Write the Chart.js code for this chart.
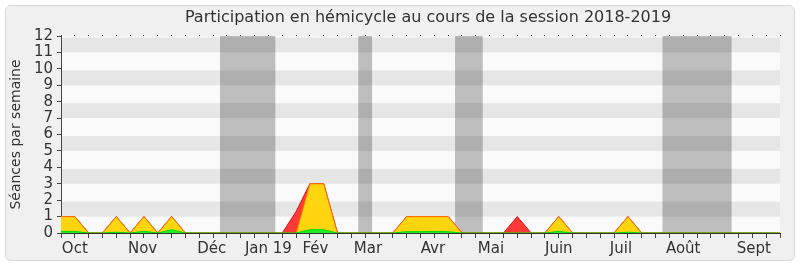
<!DOCTYPE html>
<html>
<head>
<meta charset="utf-8">
<script src="https://cdn.jsdelivr.net/npm/chart.js@4"></script>
<style>
  body { margin: 0; background: #fff; }
  #cadre { position: absolute; left: 5px; top: 5px; width: 788px; height: 254px;
           border: 1px solid #d9d9d9; border-radius: 6px; background: #f0f0f0; }
  canvas { position: absolute; left: 0; top: 0; }
</style>
</head>
<body>
<div id="cadre"></div>
<canvas id="chart" width="800" height="267"></canvas>
<script>
// une valeur par semaine, de début octobre 2018 (0) à fin septembre 2019 (52)
const seances = [
  1, 1, 0, 0, 1, 0, 1, 0, 1, 0,
  0, 0, 0, 0, 0, 0, 0, 1.3, 3, 3,
  0, 0, 0, 0, 0, 1, 1, 1, 1, 0,
  0, 0, 0, 1, 0, 0, 1, 0, 0, 0,
  0, 1, 0, 0, 0, 0, 0, 0, 0, 0,
  0, 0, 0
];
const presences = [
  1, 1, 0, 0, 1, 0, 1, 0, 1, 0,
  0, 0, 0, 0, 0, 0, 0, 0, 3, 3,
  0, 0, 0, 0, 0, 1, 1, 1, 1, 0,
  0, 0, 0, 0, 0, 0, 1, 0, 0, 0,
  0, 1, 0, 0, 0, 0, 0, 0, 0, 0,
  0, 0, 0
];
const interventions = [
  0.1, 0.1, 0, 0, 0.05, 0, 0.1, 0, 0.2, 0,
  0, 0, 0, 0, 0, 0, 0, 0, 0.2, 0.2,
  0, 0, 0, 0, 0, 0.08, 0.08, 0.1, 0.08, 0,
  0, 0, 0, 0, 0, 0, 0.1, 0, 0, 0,
  0, 0.05, 0, 0, 0, 0, 0, 0, 0, 0,
  0, 0, 0
];

// vacances parlementaires (en semaines)
const vacances = [[11.5, 15.5], [21.5, 22.5], [28.5, 30.5], [43.5, 48.5]];

// étiquettes des mois et semaine où elles tombent
const mois = ['Oct', 'Nov', 'Déc', 'Jan 19', 'Fév', 'Mar', 'Avr', 'Mai', 'Juin', 'Juil', 'Août', 'Sept'];
const moisSemaine = [1, 5.9, 10.9, 15, 18.4, 22.2, 26.9, 31.1, 36, 40.5, 45, 50.1];

const nbSemaines = 52;
const police = 'DejaVu Sans';

const toPoints = arr => arr.map((v, i) => ({ x: i, y: v }));

const fond = {
  id: 'fond',
  afterLayout(chart) {
    // le titre est centré un peu à droite dans l'original
    chart.titleBlock.left += 76;
  },
  beforeDraw(chart) {
    const { ctx, chartArea: a, scales: { x, y } } = chart;
    ctx.save();
    ctx.fillStyle = '#fafafa';
    ctx.fillRect(a.left, a.top, a.width, a.height);
    ctx.fillStyle = '#e6e6e6';
    for (let k = 1; k < 12; k += 2) {
      const y1 = y.getPixelForValue(k + 1);
      const y0 = y.getPixelForValue(k);
      ctx.fillRect(a.left, y1 + 1.5, a.width, y0 - y1 - 1.5);
    }
    ctx.fillStyle = 'rgba(0,0,0,0.245)';
    vacances.forEach(([d, f]) => {
      const x0 = x.getPixelForValue(d);
      const x1 = x.getPixelForValue(f);
      ctx.fillRect(x0, a.top, x1 - x0, a.height);
    });
    ctx.restore();
  }
};

const ctx = document.getElementById('chart').getContext('2d');

new Chart(ctx, {
  type: 'line',
  data: {
    datasets: [{
        label: 'Interventions',
        data: toPoints(interventions),
        backgroundColor: '#22ee22',
        borderColor: '#00dd00',
        borderWidth: 1,
        fill: 'origin'
      },
      {
        label: 'Présences',
        data: toPoints(presences),
        backgroundColor: '#ffd510',
        borderColor: '#ff6a00',
        borderWidth: 1,
        fill: 'origin'
      },
      {
        label: 'Séances',
        data: toPoints(seances),
        backgroundColor: '#ff3838',
        borderColor: '#ee1111',
        borderWidth: 1,
        fill: 'origin'
      }
    ]
  },
  options: {
    responsive: false,
    animation: false,
    events: [],
    elements: { point: { radius: 0 }, line: { tension: 0 } },
    layout: { padding: { left: 0, right: 20, top: 0, bottom: 0 } },
    plugins: {
      legend: { display: false },
      tooltip: { enabled: false },
      title: {
        display: true,
        text: 'Participation en hémicycle au cours de la session 2018-2019',
        color: '#333',
        font: { family: police, size: 16, weight: 'normal' },
        padding: { top: 8, bottom: 0 }
      }
    },
    scales: {
      x: {
        type: 'linear',
        position: 'bottom',
        min: 0,
        max: nbSemaines,
        afterBuildTicks: scale => {
          const t = [];
          for (let i = 0; i <= nbSemaines; i++) t.push({ value: i });
          moisSemaine.forEach(v => t.push({ value: v }));
          scale.ticks = t;
        },
        afterFit: scale => { scale.height = 34; },
        ticks: {
          autoSkip: false,
          maxRotation: 0,
          minRotation: 0,
          padding: 2,
          color: '#333',
          font: { family: police, size: 15 },
          callback: function (value, index) {
            return index > nbSemaines ? mois[index - nbSemaines - 1] : '';
          }
        },
        grid: {
          drawOnChartArea: false,
          tickLength: 5,
          tickColor: c => (c.index > nbSemaines ? 'rgba(0,0,0,0)' : '#444')
        },
        border: { color: '#333' }
      },
      xHaut: {
        type: 'linear',
        position: 'top',
        min: 0,
        max: nbSemaines,
        afterFit: scale => { scale.height = 8.8; },
        ticks: { display: false, stepSize: 1 },
        grid: { drawOnChartArea: false, tickLength: 1, tickColor: '#444' },
        border: { display: false }
      },
      y: {
        min: 0,
        max: 12,
        afterFit: scale => { scale.width = 61; },
        ticks: {
          stepSize: 1,
          autoSkip: false,
          padding: 4,
          color: '#333',
          font: { family: police, size: 15 }
        },
        grid: { drawOnChartArea: false, tickLength: 4, tickColor: '#444' },
        border: { color: '#444' },
        title: {
          display: true,
          text: 'Séances par semaine',
          color: '#333',
          font: { family: police, size: 14 },
          padding: { top: 8, bottom: 0 }
        }
      }
    }
  },
  plugins: [fond]
});
</script>
</body>
</html>
